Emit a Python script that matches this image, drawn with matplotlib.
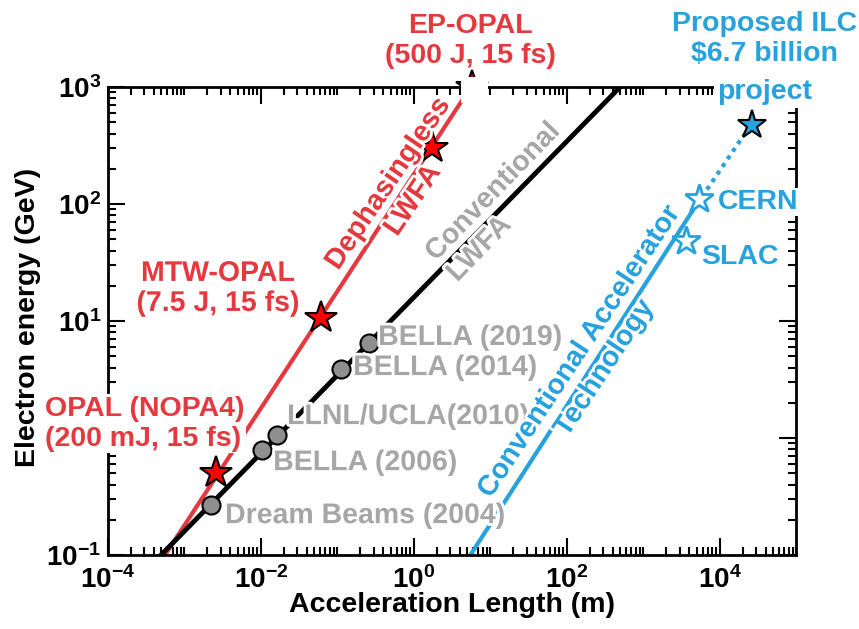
import matplotlib
matplotlib.use('Agg')
import numpy as np
import matplotlib.pyplot as plt
import matplotlib.patheffects as pe
from matplotlib import font_manager
from matplotlib.ticker import LogLocator, FixedLocator, FuncFormatter, NullFormatter
from matplotlib.patches import Rectangle

# ---- data (length in m, energy in GeV) ----
dephasing_len = [5.57e-4, 5.57]
dephasing_E = [0.1, 1000]
opal_len = [2.6e-3, 0.061, 1.74]
opal_E = [0.5, 10.6, 301]
ep_opal_len = [5.8]
ep_opal_E = [1000]

conv_lwfa_len = [4.94e-4, 500]
conv_lwfa_E = [0.1, 1000]
expt_names = ['Dream Beams (2004)', 'BELLA (2006)', 'LLNL/UCLA(2010)', 'BELLA (2014)', 'BELLA (2019)']
expt_len = [2.24e-3, 0.0104, 0.0163, 0.112, 0.26]
expt_E = [0.27, 0.79, 1.06, 3.9, 6.5]

rf_len = [5.5, 4300]
rf_E = [0.1, 85]
rf_proj_len = [4300, 27000]
rf_proj_E = [85, 500]
rf_names = ['SLAC', 'CERN']
rf_pt_len = [3680, 5440]
rf_pt_E = [48, 110]
ilc_len = [26900]
ilc_E = [473]

x_ticks = [1e-4, 1e-2, 1, 1e2, 1e4]

RED = '#E4393F'
BLUE = '#27A2DD'
GRAY = '#A6A6A6'

names = {f.name for f in font_manager.fontManager.ttflist}
narrow = 'Liberation Sans Narrow' if 'Liberation Sans Narrow' in names else 'Liberation Sans'
plt.rcParams['font.family'] = ['Liberation Sans', 'DejaVu Sans']
plt.rcParams['font.weight'] = 'bold'
plt.rcParams['mathtext.fontset'] = 'custom'
plt.rcParams['mathtext.rm'] = narrow + ':bold'
plt.rcParams['mathtext.bf'] = narrow + ':bold'
plt.rcParams['mathtext.default'] = 'bf'

fig = plt.figure(figsize=(8.59, 6.29), dpi=100)
ax = fig.add_axes([0.1257, 0.1176, 0.801, 0.7441])
ax.set_xscale('log')
ax.set_yscale('log')
ax.set_xlim(1e-4, 1e5)
ax.set_ylim(0.1, 1000)

halo = [pe.withStroke(linewidth=4, foreground='white')]

# lines
ax.plot(dephasing_len, dephasing_E, color=RED, lw=3, zorder=2)
ax.plot(conv_lwfa_len, conv_lwfa_E, color='black', lw=3.5, zorder=2)
ax.plot(rf_len, rf_E, color=BLUE, lw=3, zorder=2)
ax.plot(rf_proj_len, rf_proj_E, color=BLUE, lw=3, ls=(0, (1, 1.2)), zorder=2)

# markers
ax.plot(opal_len, opal_E, ls='none', marker='*', ms=24, mfc='red', mec='black', mew=1.5, zorder=6)
ax.plot(ep_opal_len, ep_opal_E, ls='none', marker='*', ms=24, mfc='red', mec='black', mew=1.5,
        zorder=6, clip_on=False)
ax.plot(expt_len, expt_E, ls='none', marker='o', ms=13, mfc='#8F8F8F', mec='black', mew=1.5, zorder=6)
ax.plot(rf_pt_len, rf_pt_E, ls='none', marker='*', ms=21, mfc='white', mec=BLUE, mew=2, zorder=6)
ax.plot(ilc_len, ilc_E, ls='none', marker='*', ms=21, mfc=BLUE, mec='black', mew=1.5, zorder=6)

# white patch hiding EP-OPAL point
ax.add_patch(Rectangle((0.513, 0.966), 0.039, 0.055, transform=ax.transAxes,
                       facecolor='white', edgecolor='none', clip_on=False, zorder=10))

# ticks
ax.xaxis.set_major_locator(FixedLocator(x_ticks))
ax.xaxis.set_minor_locator(LogLocator(base=10, subs=np.arange(1, 10), numticks=40))
ax.xaxis.set_minor_formatter(NullFormatter())
ax.yaxis.set_major_locator(LogLocator(base=10, numticks=10))
ax.yaxis.set_minor_locator(LogLocator(base=10, subs=np.arange(2, 10), numticks=40))
ax.yaxis.set_minor_formatter(NullFormatter())
fmt = FuncFormatter(lambda v, p: r'$\mathbf{10^{%d}}$' % int(round(np.log10(v))))
ax.xaxis.set_major_formatter(fmt)
ax.yaxis.set_major_formatter(fmt)
ax.tick_params(which='both', direction='in', top=True, right=True, width=1.5, labelsize=20)
ax.tick_params(which='major', length=12)
ax.tick_params(which='minor', length=6)
ax.tick_params(axis='x', pad=8)
ax.tick_params(axis='y', pad=5)
for s in ax.spines.values():
    s.set_linewidth(2)

fig.text(452 / 859, 1 - 605 / 629, 'Acceleration Length (m)', ha='center', va='center',
         fontsize=20.5, fontweight='bold')
fig.text(28 / 859, 1 - 317 / 629, 'Electron energy (GeV)', ha='center', va='center',
         rotation=90, fontsize=20.5, fontweight='bold')

tk = dict(fontsize=20.5, fontweight='bold', clip_on=False, zorder=7)

# red annotations
ax.text(5.5, 2460, 'EP-OPAL\n(500 J, 15 fs)', ha='center', va='center', color=RED, **tk)
ax.text(2.75e-3, 18.8, 'MTW-OPAL\n(7.5 J, 15 fs)', ha='center', va='center', color=RED,
        path_effects=halo, **tk)
ax.text(1.5e-5, 1.32, 'OPAL (NOPA4)\n(200 mJ, 15 fs)', ha='left', va='center', color=RED,
        bbox=dict(facecolor='white', edgecolor='none', pad=1), **tk)
ax.text(0.68, 126, 'Dephasingless\nLWFA', ha='center', va='center', rotation=56,
        rotation_mode='anchor', color=RED, path_effects=halo, **tk)

# gray annotations
ax.text(15.2, 103, 'Conventional\nLWFA', ha='center', va='center', multialignment='left',
        rotation=46, rotation_mode='anchor', color=GRAY, path_effects=halo, **tk)
expt_label_pos = [(3.4e-3, 0.215), (0.0145, 0.61), (0.022, 1.51), (0.161, 3.96), (0.342, 7.16)]
for name, (lx, ly) in zip(expt_names, expt_label_pos):
    ax.text(lx, ly, name, ha='left', va='center', color=GRAY, path_effects=halo, **tk)

# blue annotations
ax.text(216, 4.64, 'Conventional Accelerator\nTechnology', ha='center', va='center',
        rotation=56.5, rotation_mode='anchor', color=BLUE, path_effects=halo, **tk)
ax.text(3.85e4, 2550, 'Proposed ILC\n\\$6.7 billion', ha='center', va='center', color=BLUE, **tk)
ax.text(3.85e4, 906, 'project', ha='center', va='center', color=BLUE,
        bbox=dict(facecolor='white', edgecolor='none', pad=2), **tk)
rf_label_pos = [(5750, 35), (9500, 104)]
for name, (lx, ly) in zip(rf_names, rf_label_pos):
    ax.text(lx, ly, name, ha='left', va='center', color=BLUE,
            bbox=dict(facecolor='white', edgecolor='none', pad=1), **tk)

fig.savefig('out.png', dpi=100)
